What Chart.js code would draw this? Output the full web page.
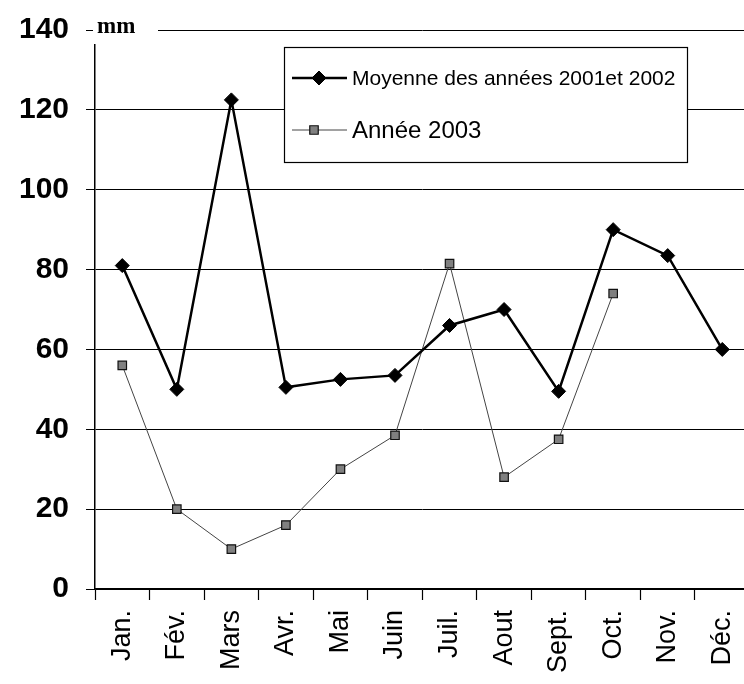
<!DOCTYPE html>
<html>
<head>
<meta charset="utf-8">
<script src="https://cdn.jsdelivr.net/npm/chart.js@4/dist/chart.umd.min.js"></script>
<style>
    html, body { margin: 0; padding: 0; background: #ffffff; overflow: hidden; }
    #wrap { width: 744px; height: 684px; overflow: hidden; }
</style>
</head>
<body>
<div id="wrap"><canvas id="rainChart" width="765" height="684"></canvas></div>
<script>
// Pluviométrie mensuelle (mm)
const months = ["Jan.", "Fév.", "Mars", "Avr.", "Mai", "Juin", "Juil.", "Aout", "Sept.", "Oct.", "Nov.", "Déc."];
const moyenne2001_2002 = [81, 50, 122.5, 50.5, 52.5, 53.5, 66, 70, 49.5, 90, 83.5, 60];
const annee2003 = [56, 20, 10, 16, 30, 38.5, 81.5, 28, 37.5, 74, null, null];
const yTicks = [0, 20, 40, 60, 80, 100, 120, 140];
const unitLabel = "mm";

const FONT = "'Liberation Sans', Arial, sans-serif";

// white patch with "mm" over the top-left of the chart
const unitPlugin = {
    id: "unitLabel",
    afterDraw(chart) {
        const ctx = chart.ctx;
        ctx.save();
        ctx.fillStyle = "#ffffff";
        ctx.fillRect(93, 10, 65, 34);
        ctx.fillStyle = "#000000";
        ctx.font = "bold 23px 'Liberation Serif', 'Times New Roman', serif";
        ctx.textBaseline = "alphabetic";
        ctx.textAlign = "left";
        ctx.fillText(unitLabel, 97, 33);
        ctx.restore();
    }
};

// boxed legend drawn inside the plot
const legendPlugin = {
    id: "boxLegend",
    afterDatasetsDraw(chart) {
        const ctx = chart.ctx;
        const box = { x: 284, y: 47, w: 403, h: 115 };
        const rows = [
            { y: 78, font: "21px " + FONT, marker: 319 },
            { y: 130, font: "24px " + FONT, marker: 314 }
        ];
        ctx.save();
        ctx.fillStyle = "#ffffff";
        ctx.fillRect(box.x, box.y, box.w, box.h);
        ctx.strokeStyle = "#000000";
        ctx.lineWidth = 1.2;
        ctx.strokeRect(box.x + 0.5, box.y + 0.5, box.w, box.h);

        chart.data.datasets.forEach((ds, i) => {
            const r = rows[i];
            ctx.strokeStyle = ds.borderColor;
            ctx.lineWidth = ds.borderWidth;
            ctx.beginPath();
            ctx.moveTo(292, r.y);
            ctx.lineTo(347, r.y);
            ctx.stroke();
            ctx.fillStyle = ds.pointBackgroundColor;
            ctx.strokeStyle = ds.pointBorderColor;
            ctx.lineWidth = ds.pointBorderWidth;
            Chart.helpers.drawPoint(ctx, {
                pointStyle: ds.pointStyle,
                radius: ds.pointRadius,
                borderWidth: ds.pointBorderWidth,
                rotation: 0
            }, r.marker, r.y);
            ctx.fillStyle = "#000000";
            ctx.font = r.font;
            ctx.textBaseline = "middle";
            ctx.textAlign = "left";
            ctx.fillText(ds.label, 352, r.y + 1);
        });
        ctx.restore();
    }
};

new Chart(document.getElementById("rainChart"), {
    type: "line",
    data: {
        labels: months,
        datasets: [{
            label: "Moyenne des années 2001et 2002",
            data: moyenne2001_2002,
            borderColor: "#000000",
            borderWidth: 2.5,
            pointStyle: "rectRot",
            pointRadius: 7,
            pointBackgroundColor: "#000000",
            pointBorderColor: "#000000",
            pointBorderWidth: 1,
            tension: 0
        }, {
            label: "Année 2003",
            data: annee2003,
            borderColor: "#444444",
            borderWidth: 1,
            pointStyle: "rect",
            pointRadius: 6,
            pointBackgroundColor: "#808080",
            pointBorderColor: "#111111",
            pointBorderWidth: 1.2,
            tension: 0
        }]
    },
    options: {
        responsive: false,
        animation: false,
        devicePixelRatio: 1,
        layout: { padding: { top: 30, left: 0, right: 0, bottom: 0 } },
        plugins: {
            legend: { display: false },
            tooltip: { enabled: false }
        },
        scales: {
            x: {
                offset: true,
                grid: {
                    offset: true,
                    drawOnChartArea: false,
                    drawTicks: true,
                    tickLength: 11,
                    tickColor: "#000000",
                    tickWidth: 1.2
                },
                border: { display: true, color: "#000000", width: 1.5 },
                ticks: {
                    color: "#000000",
                    font: { family: FONT, size: 27 },
                    minRotation: 90,
                    maxRotation: 90,
                    padding: 10,
                    autoSkip: false
                },
                afterFit(scale) { scale.height = 95; }
            },
            y: {
                min: 0,
                max: 140,
                afterBuildTicks(scale) { scale.ticks = yTicks.map(v => ({ value: v })); },
                grid: {
                    color: "#000000",
                    lineWidth: 1,
                    drawTicks: true,
                    tickLength: 9,
                    tickColor: "#000000"
                },
                border: { display: true, color: "#000000", width: 1.5 },
                ticks: {
                    color: "#000000",
                    font: { family: FONT, size: 30, weight: "bold" },
                    padding: 17
                },
                afterFit(scale) {
                    scale.width = 95;
                    // keep the plot top fixed by the layout padding only
                    scale.paddingTop = 0;
                    scale.paddingBottom = 0;
                }
            }
        }
    },
    plugins: [unitPlugin, legendPlugin]
});
</script>
</body>
</html>
